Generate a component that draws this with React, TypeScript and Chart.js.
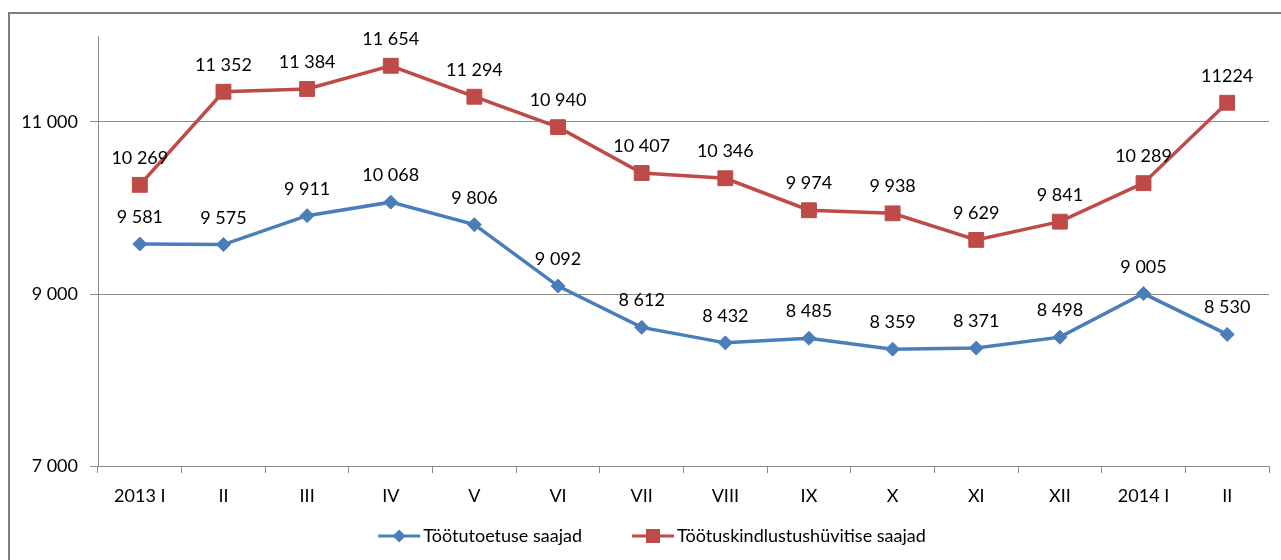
import React, { useEffect, useRef } from 'react';
import { Chart, registerables } from 'chart.js';

Chart.register(...registerables);

const categories = ['2013 I', 'II', 'III', 'IV', 'V', 'VI', 'VII', 'VIII', 'IX', 'X', 'XI', 'XII', '2014 I', 'II'];
const blueValues = [9581, 9575, 9911, 10068, 9806, 9092, 8612, 8432, 8485, 8359, 8371, 8498, 9005, 8530];
const redValues = [10269, 11352, 11384, 11654, 11294, 10940, 10407, 10346, 9974, 9938, 9629, 9841, 10289, 11224];
const blueLabels = ['9 581', '9 575', '9 911', '10 068', '9 806', '9 092', '8 612', '8 432', '8 485', '8 359', '8 371', '8 498', '9 005', '8 530'];
const redLabels = ['10 269', '11 352', '11 384', '11 654', '11 294', '10 940', '10 407', '10 346', '9 974', '9 938', '9 629', '9 841', '10 289', '11224'];
const yTicks = [7000, 9000, 11000];
const yMin = 7000;
const yMax = 12000;
const seriesNames = ['Töötutoetuse saajad', 'Töötuskindlustushüvitise saajad'];

const BLUE = '#4A7EBB';
const RED = '#BE4B48';
const GRID = '#8C8C8C';
const FONT = 'Lato';
const FS = 18;

const fmt = (v: number) => {
  const s = String(Math.round(v));
  return s.replace(/\B(?=(\d{3})+(?!\d))/g, ' ');
};

function drawDiamond(ctx: CanvasRenderingContext2D, x: number, y: number, r: number, color: string) {
  ctx.beginPath();
  ctx.moveTo(x - r, y);
  ctx.lineTo(x, y - r);
  ctx.lineTo(x + r, y);
  ctx.lineTo(x, y + r);
  ctx.closePath();
  ctx.fillStyle = color;
  ctx.fill();
}

function drawSquare(ctx: CanvasRenderingContext2D, x: number, y: number, h: number, color: string) {
  ctx.fillStyle = color;
  ctx.fillRect(x - h, y - h, 2 * h, 2 * h);
}

const overlay = {
  id: 'overlay',
  beforeDraw(chart: any) {
    const ctx = chart.ctx as CanvasRenderingContext2D;
    ctx.save();
    ctx.strokeStyle = '#7F7F7F';
    ctx.lineWidth = 2;
    ctx.beginPath();
    ctx.moveTo(9, 560);
    ctx.lineTo(9, 13);
    ctx.lineTo(1281, 13);
    ctx.stroke();
    ctx.restore();
  },
  afterDatasetsDraw(chart: any) {
    const ctx = chart.ctx as CanvasRenderingContext2D;
    ctx.save();
    ctx.font = `${FS}px ${FONT}`;
    ctx.fillStyle = '#000';
    ctx.textAlign = 'center';
    ctx.textBaseline = 'alphabetic';
    [blueLabels, redLabels].forEach((labels, di) => {
      const meta = chart.getDatasetMeta(di);
      meta.data.forEach((pt: any, i: number) => {
        ctx.fillText(labels[i], pt.x, pt.y - 21);
      });
    });
    ctx.restore();
  },
  afterDraw(chart: any) {
    const ctx = chart.ctx as CanvasRenderingContext2D;
    ctx.save();
    ctx.font = `${FS}px ${FONT}`;
    const y = 536;
    const w0 = ctx.measureText(seriesNames[0]).width;
    const w1 = ctx.measureText(seriesNames[1]).width;
    const sample = 42;
    const gapText = 3;
    const gapItem = 50;
    const total = sample + gapText + w0 + gapItem + sample + gapText + w1;
    let x = 652 - total / 2;
    const colors = [BLUE, RED];
    const widths = [w0, w1];
    for (let i = 0; i < 2; i++) {
      ctx.strokeStyle = colors[i];
      ctx.lineWidth = 3;
      ctx.beginPath();
      ctx.moveTo(x, y);
      ctx.lineTo(x + sample, y);
      ctx.stroke();
      if (i === 0) drawDiamond(ctx, x + sample / 2, y, 6.5, colors[i]);
      else drawSquare(ctx, x + sample / 2, y, 7, colors[i]);
      ctx.fillStyle = '#000';
      ctx.textAlign = 'left';
      ctx.textBaseline = 'middle';
      ctx.fillText(seriesNames[i], x + sample + gapText, y);
      x += sample + gapText + widths[i] + gapItem;
    }
    ctx.restore();
  },
};

export default function App() {
  const ref = useRef<HTMLCanvasElement | null>(null);

  useEffect(() => {
    if (!ref.current) return;
    const chart = new Chart(ref.current, {
      type: 'line',
      data: {
        labels: categories,
        datasets: [
          {
            label: seriesNames[0],
            data: blueValues,
            borderColor: BLUE,
            backgroundColor: BLUE,
            borderWidth: 3.5,
            pointStyle: 'rectRot',
            pointRadius: 7,
            pointBorderWidth: 1,
            pointBackgroundColor: BLUE,
            pointBorderColor: BLUE,
            tension: 0,
          },
          {
            label: seriesNames[1],
            data: redValues,
            borderColor: RED,
            backgroundColor: RED,
            borderWidth: 3.5,
            pointStyle: 'rect',
            pointRadius: 10.5,
            pointBorderWidth: 1,
            pointBackgroundColor: RED,
            pointBorderColor: RED,
            tension: 0,
          },
        ],
      },
      options: {
        animation: false,
        responsive: false,
        maintainAspectRatio: false,
        events: [],
        layout: { padding: { left: 0, top: 36, right: 12, bottom: 0 } },
        plugins: {
          legend: { display: false },
          tooltip: { enabled: false },
          title: { display: false },
        },
        scales: {
          x: {
            offset: true,
            grid: {
              offset: true,
              drawOnChartArea: false,
              drawTicks: true,
              tickLength: 7,
              color: GRID,
            },
            border: { display: true, color: GRID, width: 1 },
            ticks: {
              color: '#000',
              font: { family: FONT, size: FS },
              padding: 12,
              maxRotation: 0,
              autoSkip: false,
            },
            afterFit(scale: any) {
              scale.height = 94;
            },
          },
          y: {
            min: yMin,
            max: yMax,
            afterBuildTicks(scale: any) {
              scale.ticks = yTicks.map((v) => ({ value: v }));
            },
            grid: {
              color: GRID,
              tickLength: 8,
              drawTicks: true,
            },
            border: { display: true, color: GRID, width: 1 },
            ticks: {
              color: '#000',
              font: { family: FONT, size: FS },
              padding: 12,
              callback: (v: any) => fmt(Number(v)),
            },
            afterFit(scale: any) {
              scale.width = 98;
            },
          },
        },
      },
      plugins: [overlay],
    });
    if ((document as any).fonts && (document as any).fonts.ready) {
      (document as any).fonts.ready.then(() => chart.update());
    }
    return () => chart.destroy();
  }, []);

  return (
    <div style={{ position: 'absolute', left: 0, top: 0, width: 1281, height: 560, background: '#fff' }}>
      <canvas ref={ref} width={1281} height={560} style={{ display: 'block', width: 1281, height: 560 }} />
    </div>
  );
}
